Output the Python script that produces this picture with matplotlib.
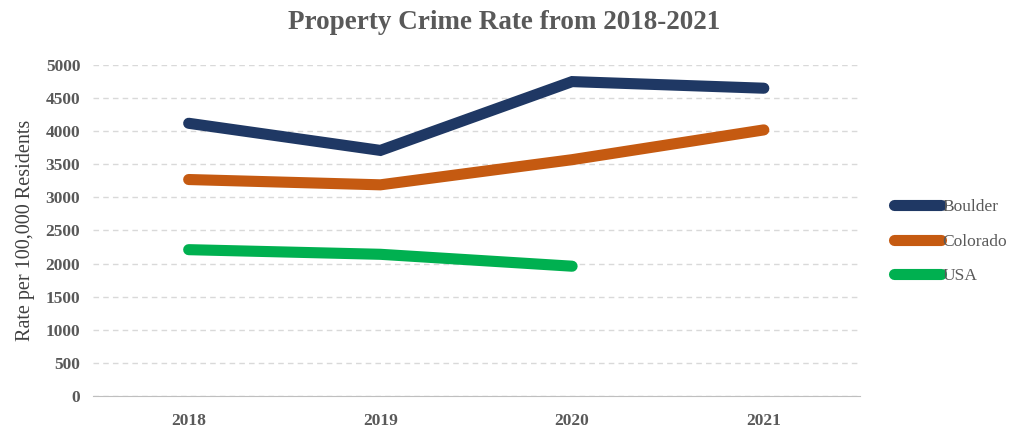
import matplotlib.pyplot as plt

years = ["2018", "2019", "2020", "2021"]
boulder = [4120, 3710, 4750, 4650]
colorado = [3270, 3190, 3570, 4020]
usa = [2210, 2140, 1960]

plt.rcParams['font.family'] = ['Liberation Serif', 'DejaVu Serif']

fig = plt.figure(figsize=(10.09, 4.28), dpi=100)
ax = fig.add_axes([0.092, 0.075, 0.76, 0.773])

x = list(range(len(years)))
lw = 8
ax.plot(x, boulder, color='#1F3864', lw=lw, solid_capstyle='round', solid_joinstyle='miter', label='Boulder')
ax.plot(x, colorado, color='#C55A11', lw=lw, solid_capstyle='round', solid_joinstyle='miter', label='Colorado')
ax.plot(x[:len(usa)], usa, color='#00B050', lw=lw, solid_capstyle='round', solid_joinstyle='miter', label='USA')

ax.set_xlim(-0.5, 3.5)
ax.set_ylim(0, 5000)
ax.set_yticks(range(0, 5001, 500))
ax.set_xticks(x)
ax.set_xticklabels(years)

ax.grid(axis='y', color='#D9D9D9', linestyle=(0, (4, 3)), linewidth=1)
ax.set_axisbelow(True)
for s in ['top', 'right', 'left']:
    ax.spines[s].set_visible(False)
ax.spines['bottom'].set_color('#BFBFBF')
ax.tick_params(axis='y', length=0, labelsize=12.5, colors='#595959', pad=9)
ax.tick_params(axis='x', length=0, labelsize=12.5, colors='#595959', pad=12)
for lab in ax.get_xticklabels() + ax.get_yticklabels():
    lab.set_fontweight('bold')

ax.set_ylabel('Rate per 100,000 Residents', fontsize=14.5, color='#404040', labelpad=8)
fig.suptitle('Property Crime Rate from 2018-2021', fontsize=19.5, fontweight='bold', color='#595959', y=0.977)

leg = ax.legend(loc='center left', bbox_to_anchor=(1.025, 0.466), frameon=False,
                fontsize=12.5, labelcolor='#595959', handlelength=2.7, handletextpad=0.05,
                labelspacing=1.05)

fig.savefig('out.png', dpi=100)
